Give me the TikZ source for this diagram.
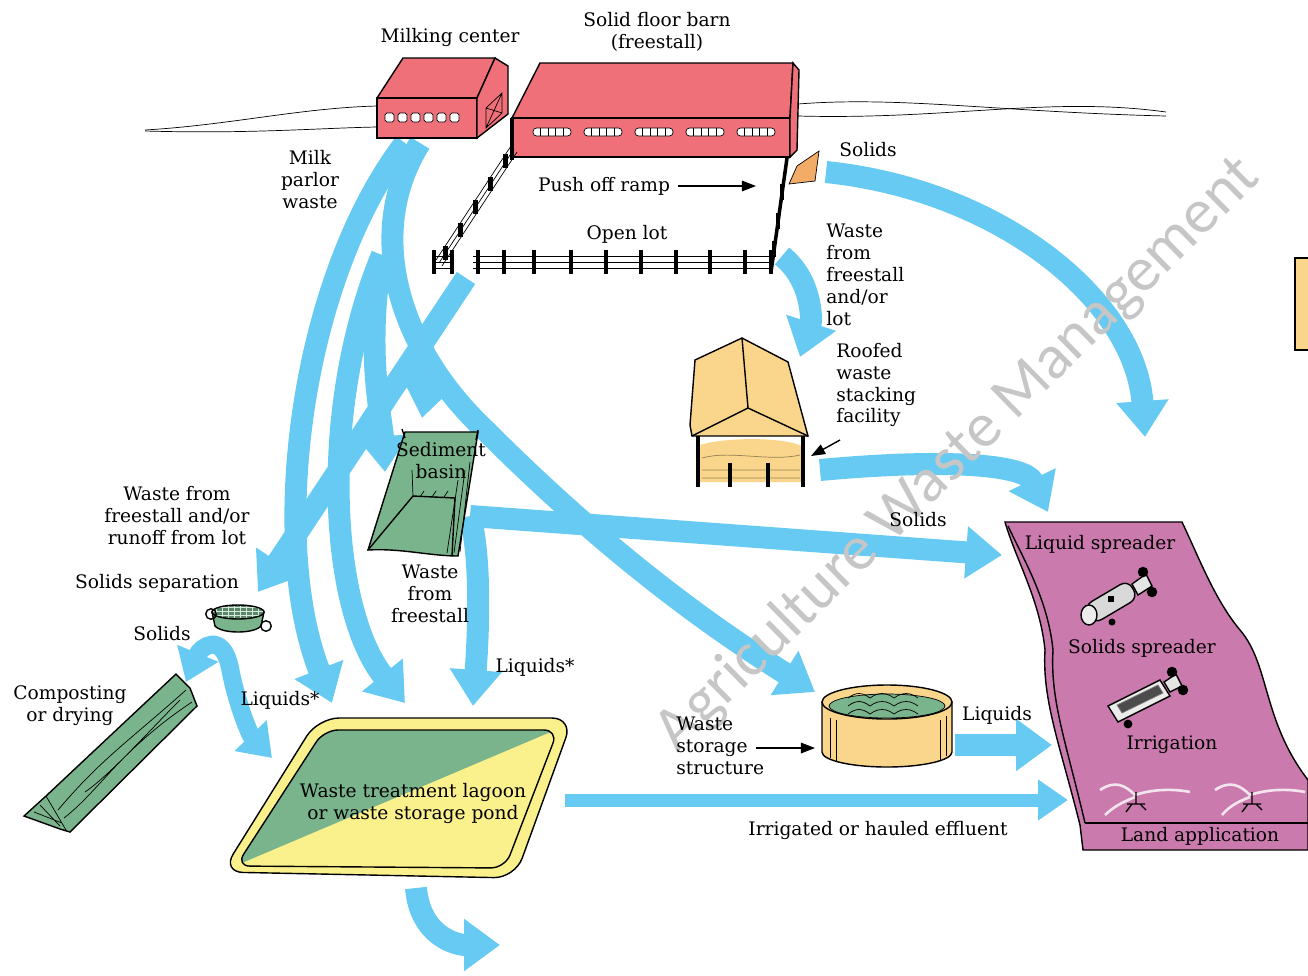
\documentclass[tikz,border=0pt]{standalone}
\usepackage{fontspec}
\setmainfont{DejaVu Serif}
\newfontfamily\markfont{Carlito}
\usetikzlibrary{arrows.meta,positioning,calc}
\definecolor{flowblue}{RGB}{102,202,242}
\definecolor{barnred}{RGB}{240,112,122}
\definecolor{roofyel}{RGB}{250,214,140}
\definecolor{basingreen}{RGB}{122,180,140}
\definecolor{lagyel}{RGB}{250,240,140}
\definecolor{landpink}{RGB}{202,122,172}
\definecolor{rampor}{RGB}{242,172,104}
\tikzset{flow/.style={draw=flowblue,line width=0.44cm,-{Triangle[width=1.0cm,length=0.72cm]}}}
\tikzset{thinflow/.style={draw=flowblue,line width=0.26cm,-{Triangle[width=0.78cm,length=0.6cm]}}}
\tikzset{pointer/.style={thick,-{Triangle[width=6pt,length=8pt]}}}
\tikzset{lbl/.style={align=center,inner sep=0pt}}
\tikzset{post/.style={line width=2.4pt}}

\begin{document}
\begin{tikzpicture}[x=0.02cm,y=-0.02cm,font=\fontsize{10.6}{12.5}\selectfont]
\useasboundingbox (0,0) rectangle (1308,975);
% points where the flows start and end
\coordinate (milkA) at (405,143);
\coordinate (milkB) at (420,143);
\coordinate (split) at (382,255);
\coordinate (lotout) at (466,278);
\coordinate (lotsplit) at (410,362);
\coordinate (rampout) at (826,172);
\coordinate (freeout) at (782,256);
\coordinate (roofin) at (800,357);
\coordinate (roofout) at (820,470);
\coordinate (basintop) at (385,472);
\coordinate (basintop2) at (422,418);
\coordinate (basinout) at (470,516);
\coordinate (sepin) at (258,592);
\coordinate (compin) at (186,682);
\coordinate (lagA) at (332,703);
\coordinate (lagB) at (405,703);
\coordinate (lagC) at (473,706);
\coordinate (lagL) at (272,758);
\coordinate (lagout) at (565,800);
\coordinate (lagdown) at (416,888);
\coordinate (tankin) at (815,692);
\coordinate (tankout) at (955,745);
\coordinate (landA) at (1002,555);
\coordinate (landB) at (1048,512);
\coordinate (landC) at (1052,745);
\coordinate (landD) at (1068,800);
\coordinate (fieldR) at (1145,437);

% flows
\draw[flow] (milkA) .. controls (300,280) and (268,540) .. (lagA);
\draw[flow] (split) .. controls (318,410) and (330,610) .. (lagB);
\draw[flow] (split) .. controls (365,350) and (382,420) .. (basintop);
\draw[flow] (milkB) .. controls (365,230) and (395,345) .. (485,430) .. controls (600,545) and (700,620) .. (tankin);
\draw[flow] (lotout) -- (sepin);
\draw[flow] (lotsplit) .. controls (425,380) and (426,395) .. (basintop2);
\draw[flow] (basinout) -- (landA);
\draw[flow] (basinout) .. controls (482,560) and (478,640) .. (lagC);
\draw[flow] (rampout) .. controls (1000,190) and (1135,300) .. (fieldR);
\draw[flow] (freeout) .. controls (812,280) and (812,320) .. (roofin);
\draw[flow] (roofout) .. controls (950,458) and (1025,465) .. (landB);
\draw[flow] (tankout) -- (landC);
\draw[thinflow] (lagout) -- (landD);
\draw[flow] (lagdown) .. controls (420,935) and (455,945) .. (500,945);
\draw[draw=flowblue,line width=0.36cm,{Triangle[width=0.85cm,length=0.62cm]}-{Triangle[width=0.85cm,length=0.62cm]}]
  (compin) .. controls (200,648) and (222,630) .. (230,668) .. controls (237,705) and (250,735) .. (lagL);

% horizon
\draw (145,130) .. controls (230,125) and (300,108) .. (377,106);
\draw (145,131) .. controls (250,134) and (320,128) .. (377,127);
\draw (798,104) .. controls (900,96) and (1000,112) .. (1166,116);
\draw (798,116) .. controls (950,120) and (1050,96) .. (1166,112);

% milking center
\filldraw[fill=barnred,thick] (377,98) -- (403,58) -- (495,58) -- (477,98) -- cycle;
\filldraw[fill=barnred,thick] (377,98) rectangle (477,138);
\filldraw[fill=barnred,thick] (477,98) -- (495,58) -- (508,66) -- (508,114) -- (477,138) -- cycle;
\draw (486,128) -- (486,108) -- (502,93) -- (502,113) -- cycle (486,128) -- (502,93) (486,108) -- (502,113);
\foreach \i in {0,...,5}
  \draw[fill=white,rounded corners=1pt] ({385+\i*13},113) rectangle +(9,9);

% solid floor barn
\filldraw[fill=barnred,thick] (512,118) -- (540,63) -- (793,63) -- (790,118) -- cycle;
\filldraw[fill=barnred,thick] (512,118) rectangle (790,157);
\filldraw[fill=barnred,thick] (790,118) -- (793,63) -- (799,70) -- (797,150) -- (790,157) -- cycle;
\foreach \g in {0,...,4} {
  \draw[fill=white,rounded corners=2pt] ({533+\g*51},128) rectangle +(38,8);
  \foreach \k in {1,...,4}
    \draw ({533+\g*51+\k*7.6},128) -- +(0,8);
}

% fences of the open lot
\foreach \o in {0,3,6}
  \draw ({511+\o},{146+\o}) -- ({436+\o},{260+\o});
\foreach \t in {0.1,0.3,0.5,0.7,0.9}
  \draw[post] ($(513,150)!\t!(438,264)$) ++(0,-7) -- ++(0,14);
\draw[post] (512,118) -- (512,160);
\foreach \y in {256,262,268}
  \draw (434,\y) -- (452,\y) (473,\y) -- (772,\y);
\foreach \x in {434,452,478,504,534,571,606,641,676,710,745,771}
  \draw[post] (\x,250) -- (\x,274);
\draw[line width=2pt] (771,272) -- (787,158);
\foreach \t in {0.2,0.45,0.7}
  \draw[post] ($(771,272)!\t!(787,158)$) ++(0,-8) -- ++(0,16);
\filldraw[fill=rampor] (789,184) -- (797,166) -- (819,151) -- (815,181) -- cycle;

% roofed waste stacking facility
\fill[roofyel] (700,445) .. controls (720,438) and (780,436) .. (802,446) -- (802,482) -- (700,482) -- cycle;
\draw[roofyel!60!black] (702,458) .. controls (730,450) and (770,462) .. (800,455)
  (702,470) -- (800,470) (702,478) -- (800,478);
\filldraw[fill=roofyel,thick] (695,360) -- (742,338) -- (788,362) -- (808,436) -- (692,436) -- (690,425) -- cycle;
\draw[thick] (742,338) -- (748,408) (692,436) -- (748,408) -- (808,436);
\foreach \x in {698,803}
  \draw[post] (\x,436) -- (\x,487);
\foreach \x in {730,768}
  \draw[post] (\x,463) -- (\x,487);

% sediment basin
\filldraw[fill=basingreen,thick] (405,432) -- (478,432) -- (458,556) .. controls (430,556) and (400,548) .. (368,550) -- cycle;
\draw[thick] (368,550) -- (413,496) -- (455,498) -- (452,556);
\draw (413,496) -- (412,470) (458,480) -- (447,553) (465,470) -- (454,553) (470,462) -- (460,552);
\foreach \x in {420,432,444}
  \draw (\x,497) -- ++(4,-6);
\draw[thick] (402,429) -- (405,438) (478,430) -- (476,440);

% solids separation
\filldraw[fill=basingreen,thick] (212,612) -- (215,626) .. controls (222,634) and (254,634) .. (261,626) -- (264,612) -- cycle;
\filldraw[fill=basingreen!75!black,thick] (238,612) ellipse[x radius=0.52cm,y radius=0.14cm];
\begin{scope}
  \clip (238,612) ellipse[x radius=0.5cm,y radius=0.12cm];
  \foreach \x in {216,222,...,260} \draw[white!70!basingreen] (\x,600) -- (\x,624);
  \foreach \y in {607,611,615} \draw[white!70!basingreen] (210,\y) -- (266,\y);
\end{scope}
\draw[thick] (211,614) circle[radius=3pt] (266,626) circle[radius=3pt];

% composting or drying
\filldraw[fill=basingreen,thick] (24,816) -- (46,796) -- (176,674) -- (190,688) -- (197,706) -- (70,832) -- (60,829) -- cycle;
\draw (46,796) -- (66,830) (58,810) .. controls (100,760) and (130,740) .. (186,690)
  (64,818) .. controls (100,790) and (120,750) .. (192,702)
  (85,792) .. controls (110,775) and (150,730) .. (180,700)
  (34,812) -- (62,823) (40,805) -- (60,826);

% waste treatment lagoon
\filldraw[fill=lagyel,thick,rounded corners=12pt] (222,872) -- (318,718) -- (573,718) -- (515,878) -- cycle;
\begin{scope}
  \clip[rounded corners=8pt] (236,866) -- (324,730) -- (558,730) -- (505,868) -- cycle;
  \fill[basingreen] (230,868) -- (318,722) -- (560,728) -- cycle;
\end{scope}
\draw[thick,rounded corners=8pt] (236,866) -- (324,730) -- (558,730) -- (505,868) -- cycle;

% waste storage structure
\filldraw[fill=roofyel,thick] (822,702) -- (822,752) arc[start angle=180,end angle=360,x radius=1.3cm,y radius=0.3cm] -- (952,702) -- cycle;
\filldraw[fill=roofyel,thick] (887,702) ellipse[x radius=1.3cm,y radius=0.34cm];
\filldraw[fill=basingreen] (887,706) ellipse[x radius=1.16cm,y radius=0.24cm];
\foreach \y in {698,706,714}
  \draw (848,\y) .. controls (856,\y-6) and (862,\y-6) .. (870,\y) .. controls (878,\y-6) and (886,\y-6) .. (894,\y) .. controls (902,\y-6) and (910,\y-6) .. (918,\y);
\draw (830,718) -- (830,758) (836,720) -- (836,762) (940,720) -- (940,760) (946,716) -- (946,756);

% land application
\filldraw[fill=landpink,thick] (1005,522) -- (1182,522) .. controls (1200,560) and (1215,600) .. (1240,630)
  .. controls (1270,665) and (1262,720) .. (1308,780) -- (1308,850) -- (1083,850) -- (1080,825)
  .. controls (1060,745) and (1042,700) .. (1045,650) .. controls (1040,600) and (1016,560) .. cycle;
\draw[thick] (1085,823) .. controls (1066,742) and (1050,700) .. (1053,650) .. controls (1048,600) and (1024,560) .. (1008,526);
\draw[thick] (1085,823) -- (1308,823);
\draw[white!80!landpink,line width=1.5pt] (1100,790) .. controls (1115,780) and (1125,785) .. (1135,795)
  (1105,815) .. controls (1115,805) and (1128,800) .. (1135,797) (1135,795) .. controls (1150,790) and (1170,788) .. (1190,792)
  (1215,790) .. controls (1230,780) and (1240,785) .. (1250,795) (1222,815) .. controls (1230,805) and (1242,800) .. (1250,797)
  (1250,795) .. controls (1265,790) and (1285,788) .. (1305,792);
\foreach \x in {1136,1252} {
  \draw[thick] (\x,792) -- (\x,804) (\x-9,804) -- (\x+9,804) (\x-4,804) -- (\x-10,812) (\x+4,804) -- (\x+10,810);
}
% liquid spreader
\filldraw[fill=gray!30,thick,rounded corners=5pt] (1084,606) -- (1128,580) -- (1138,598) -- (1094,624) -- cycle;
\filldraw[fill=gray!15,thick] (1089,615) ellipse[x radius=0.16cm,y radius=0.2cm];
\fill (1108,596) rectangle +(6,6);
\filldraw[fill=gray!20,thick] (1132,584) -- (1146,574) -- (1152,586) -- (1138,595) -- cycle;
\fill (1143,572) circle[radius=3pt] (1152,592) circle[radius=3pt] (1112,622) circle[radius=2pt];
% solids spreader
\filldraw[fill=gray!15,thick] (1108,706) -- (1160,680) -- (1170,696) -- (1118,722) -- cycle;
\filldraw[fill=gray!60!black,draw=gray] (1117,705) -- (1158,685) -- (1163,693) -- (1122,713) -- cycle;
\filldraw[fill=gray!20,thick] (1164,682) -- (1176,674) -- (1182,686) -- (1170,692) -- cycle;
\fill (1172,672) circle[radius=3pt] (1183,690) circle[radius=3pt] (1128,724) circle[radius=2.5pt];

% box at the edge
\filldraw[fill=roofyel,thick] (1295,258) rectangle (1320,350);

% watermark
\node[rotate=44.5,text=gray!45,font=\markfont\fontsize{36}{36}\selectfont] (mark) at (958,455) {Agriculture Waste Management};

% labels
\node[lbl] (milklbl) at (450,37) {Milking center};
\node[lbl] (barnlbl) at (657,32) {Solid floor barn\\(freestall)};
\node[lbl] (parlor) at (310,180) {Milk\\parlor\\waste};
\node[lbl] (solidsR) at (868,150) {Solids};
\node[lbl] (push) at (604,186) {Push off ramp};
\node[lbl] (open) at (627,234) {Open lot};
\node[lbl,align=left,anchor=west] (freelot) at (826,275) {Waste\\from\\freestall\\and/or\\lot};
\node[lbl,align=left,anchor=west] (rooflbl) at (836,385) {Roofed\\waste\\stacking\\facility};
\node[lbl] (basinlbl) at (441,461) {Sediment\\basin};
\node[lbl] (runoff) at (177,516) {Waste from\\freestall and/or\\runoff from lot};
\node[lbl] (seplbl) at (157,583) {Solids separation};
\node[lbl] (solidsL) at (162,634) {Solids};
\node[lbl] (complbl) at (70,706) {Composting\\or drying};
\node[lbl] (freebasin) at (430,594) {Waste\\from\\freestall};
\node[lbl] (liqB) at (535,667) {Liquids*};
\node[lbl] (liqA) at (280,700) {Liquids*};
\node[lbl] (solidsM) at (918,520) {Solids};
\node[lbl] (liqspr) at (1100,544) {Liquid spreader};
\node[lbl] (solspr) at (1142,648) {Solids spreader};
\node[lbl] (irrig) at (1172,745) {Irrigation};
\node[lbl] (landlbl) at (1200,836) {Land application};
\node[lbl] (liqT) at (997,715) {Liquids};
\node[lbl,align=left,anchor=west] (tanklbl) at (676,746) {Waste\\storage\\structure};
\node[lbl] (effluent) at (878,830) {Irrigated or hauled effluent};
\node[lbl] (laglbl) at (413,803) {Waste treatment lagoon\\or waste storage pond};

% pointers
\coordinate (rampin) at (756,186);
\coordinate (roofpt) at (811,456);
\coordinate (tankpt) at (815,748);
\draw[pointer] (push.east) ++(8,0) -- (rampin);
\draw[pointer] (840,440) -- (roofpt);
\draw[pointer] (tanklbl.east) ++(-8,2) -- (tankpt);
\end{tikzpicture}
\end{document}
